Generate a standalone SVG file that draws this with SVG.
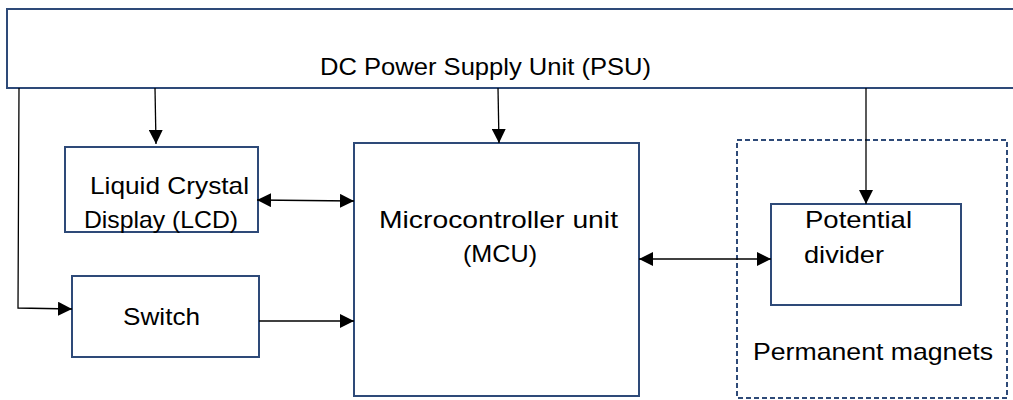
<svg xmlns="http://www.w3.org/2000/svg" width="1013" height="400" viewBox="0 0 1013 400">
<style>
.box{fill:#fff;stroke:#2E4A78;stroke-width:2}
.dash{fill:none;stroke:#2E4A78;stroke-width:2;stroke-dasharray:5,3}
.t{font-family:"Liberation Sans",Arial,sans-serif;font-size:24px;fill:#000}
.c{fill:none;stroke:#000;stroke-width:1.3}
</style>
<defs>
<marker id="ah" viewBox="0 0 10 10" refX="10" refY="5" markerWidth="14" markerHeight="14" markerUnits="userSpaceOnUse" orient="auto-start-reverse">
<path d="M0,0 L10,5 L0,10 z" fill="#000"/>
</marker>
</defs>
<rect width="1013" height="400" fill="#fff"/>
<g id="psu">
<rect class="box" x="7" y="9" width="1020" height="79"/>
<text class="t" x="320" y="75" textLength="331" lengthAdjust="spacingAndGlyphs">DC Power Supply Unit (PSU)</text>
</g>
<g id="magnets">
<rect class="dash" x="737" y="140" width="270" height="258"/>
<text class="t" x="753" y="360" textLength="240" lengthAdjust="spacingAndGlyphs">Permanent magnets</text>
</g>
<g id="lcd">
<rect class="box" x="65" y="147" width="193" height="85"/>
<text class="t" x="90" y="194" textLength="159" lengthAdjust="spacingAndGlyphs">Liquid Crystal</text>
<text class="t" x="84" y="228" textLength="154" lengthAdjust="spacingAndGlyphs">Display (LCD)</text>
</g>
<g id="switch">
<rect class="box" x="72" y="276" width="187" height="81"/>
<text class="t" x="123" y="325" textLength="77" lengthAdjust="spacingAndGlyphs">Switch</text>
</g>
<g id="mcu">
<rect class="box" x="354" y="143" width="285" height="253"/>
<text class="t" x="379" y="228" textLength="239" lengthAdjust="spacingAndGlyphs">Microcontroller unit</text>
<text class="t" x="463" y="262" textLength="74" lengthAdjust="spacingAndGlyphs">(MCU)</text>
</g>
<g id="divider">
<rect class="box" x="771" y="204" width="190" height="101"/>
<text class="t" x="805" y="228" textLength="107" lengthAdjust="spacingAndGlyphs">Potential</text>
<text class="t" x="804" y="263" textLength="80" lengthAdjust="spacingAndGlyphs">divider</text>
</g>
<g id="connectors">
<path class="c" d="M19,88 L18,308 L72,309" marker-end="url(#ah)"/>
<path class="c" d="M155,88 L156,144" marker-end="url(#ah)"/>
<path class="c" d="M498,88 L499,143" marker-end="url(#ah)"/>
<path class="c" d="M866,88 L866,204" marker-end="url(#ah)"/>
<path class="c" d="M257,200 L354,201" marker-start="url(#ah)" marker-end="url(#ah)"/>
<path class="c" d="M259,321 L354,321" marker-end="url(#ah)"/>
<path class="c" d="M639,259 L771,259" marker-start="url(#ah)" marker-end="url(#ah)"/>
</g>
</svg>
